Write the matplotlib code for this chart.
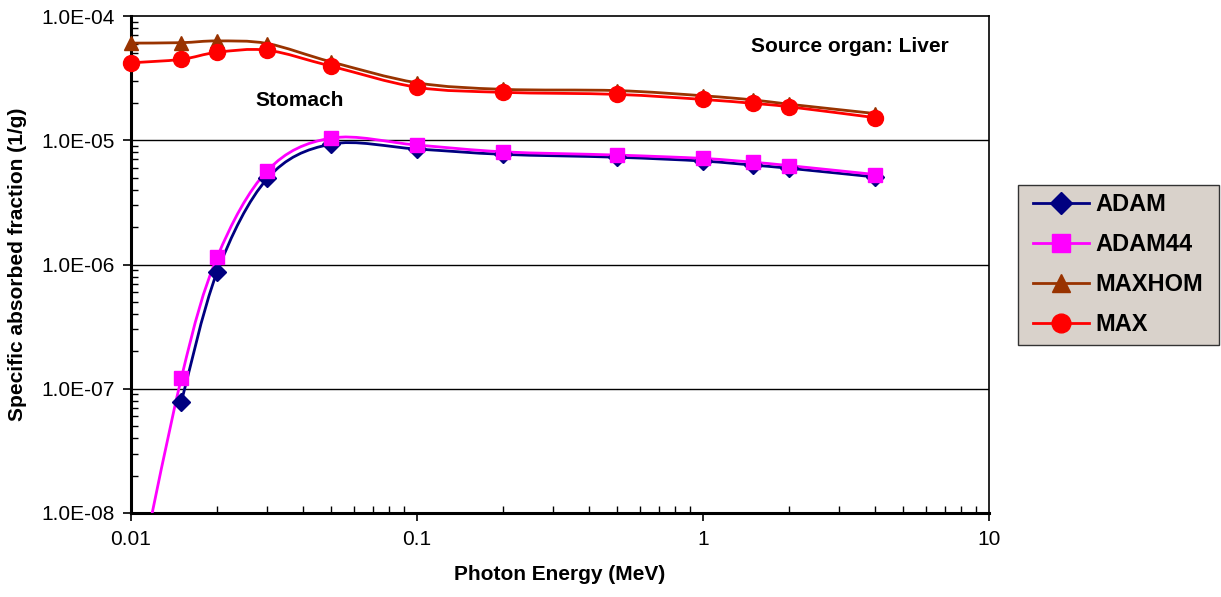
import numpy as np
import matplotlib
matplotlib.use("Agg")
import matplotlib.pyplot as plt
from matplotlib.path import Path
from matplotlib.patches import PathPatch, Rectangle
from matplotlib.lines import Line2D
from matplotlib.ticker import FixedLocator, FuncFormatter, LogLocator, NullFormatter

plt.rcParams["font.family"] = ["Liberation Sans", "DejaVu Sans"]

# --- datos ---
energia = [0.01, 0.015, 0.02, 0.03, 0.05, 0.1, 0.2, 0.5, 1, 1.5, 2, 4]

adam = [None, 7.85e-8, 8.7e-7, 4.93e-6, 9.3e-6, 8.5e-6, 7.7e-6, 7.3e-6, 6.8e-6, 6.3e-6, 5.95e-6, 5.06e-6]
adam44 = [1.5e-9, 1.22e-7, 1.14e-6, 5.7e-6, 1.04e-5, 9.15e-6, 8.07e-6, 7.6e-6, 7.14e-6, 6.65e-6, 6.25e-6, 5.3e-6]
maxhom = [6.05e-5, 6.1e-5, 6.3e-5, 6.0e-5, 4.28e-5, 2.9e-5, 2.57e-5, 2.51e-5, 2.28e-5, 2.11e-5, 1.95e-5, 1.64e-5]
max_ = [4.2e-5, 4.48e-5, 5.1e-5, 5.3e-5, 3.95e-5, 2.67e-5, 2.43e-5, 2.34e-5, 2.13e-5, 1.98e-5, 1.86e-5, 1.52e-5]

SERIES = [
    ("ADAM", adam, "#000080", "D", 9.5),
    ("ADAM44", adam44, "#FF00FF", "s", 10.5),
    ("MAXHOM", maxhom, "#993300", "^", 10.5),
    ("MAX", max_, "#FF0000", "o", 11.5),
]


def curva_suave(xs, ys):
    # curva tipo Excel (Catmull-Rom) en espacio log-log
    lx = np.log10(xs)
    ly = np.log10(ys)
    n = len(lx)
    verts = [(lx[0], ly[0])]
    codes = [Path.MOVETO]
    for i in range(n - 1):
        i0 = max(i - 1, 0)
        i3 = min(i + 2, n - 1)
        c1 = (lx[i] + (lx[i + 1] - lx[i0]) / 6, ly[i] + (ly[i + 1] - ly[i0]) / 6)
        c2 = (lx[i + 1] - (lx[i3] - lx[i]) / 6, ly[i + 1] - (ly[i3] - ly[i]) / 6)
        verts += [c1, c2, (lx[i + 1], ly[i + 1])]
        codes += [Path.CURVE4] * 3
    verts = 10 ** np.array(verts)
    return Path(verts, codes)


fig = plt.figure(figsize=(12.21, 5.97), dpi=100)
ax = fig.add_axes([131 / 1221, 1 - 513 / 597, 858 / 1221, 497 / 597])
ax.set_xscale("log")
ax.set_yscale("log")
ax.set_xlim(0.01, 10)
ax.set_ylim(1e-8, 1e-4)

for y in [1e-7, 1e-6, 1e-5]:
    ax.axhline(y, color="black", linewidth=1.0, zorder=1)

handles = []
for nombre, valores, color, marca, ms in SERIES:
    xs = [e for e, v in zip(energia, valores) if v is not None]
    ys = [v for v in valores if v is not None]
    patch = PathPatch(curva_suave(xs, ys), fill=False, edgecolor=color,
                      linewidth=2.0, zorder=3)
    ax.add_patch(patch)
    ax.plot(xs, ys, linestyle="none", marker=marca, markersize=ms,
            color=color, markeredgecolor=color, zorder=4,
            clip_on=(nombre == "ADAM44"))
    handles.append(Line2D([], [], color=color, linewidth=2.0, marker=marca,
                          markersize=ms + 2, markeredgecolor=color, label=nombre))

ax.xaxis.set_major_locator(FixedLocator([0.01, 0.1, 1, 10]))
ax.xaxis.set_major_formatter(FuncFormatter(lambda v, p: f"{v:g}"))
ax.xaxis.set_minor_locator(LogLocator(base=10, subs=np.arange(2, 10)))
ax.xaxis.set_minor_formatter(NullFormatter())
ax.yaxis.set_major_locator(FixedLocator([1e-8, 1e-7, 1e-6, 1e-5, 1e-4]))
ax.yaxis.set_major_formatter(FuncFormatter(lambda v, p: f"{v:.1E}"))
ax.yaxis.set_minor_locator(LogLocator(base=10, subs=np.arange(2, 10)))
ax.yaxis.set_minor_formatter(NullFormatter())

ax.tick_params(which="major", direction="out", length=6, width=1.2, labelsize=15, pad=6)
ax.tick_params(which="minor", direction="in", length=5, width=1.0)

for lado in ["left", "bottom"]:
    ax.spines[lado].set_linewidth(2.2)
for lado in ["top", "right"]:
    ax.spines[lado].set_linewidth(1.2)

ax.set_xlabel("Photon Energy (MeV)", fontsize=15, fontweight="bold", labelpad=12)
ax.set_ylabel("Specific absorbed fraction (1/g)", fontsize=15, fontweight="bold", labelpad=10)

fig.text(300 / 1221, 1 - 100 / 597, "Stomach", fontsize=15, fontweight="bold",
         ha="center", va="center")
fig.text(850 / 1221, 1 - 47 / 597, "Source organ: Liver", fontsize=15,
         fontweight="bold", ha="center", va="center")

# fondo de la leyenda (caja estilo Excel)
fig.patches.append(Rectangle((1018 / 1221, 1 - 345 / 597), 201 / 1221, 160 / 597,
                             transform=fig.transFigure, facecolor="#d9d2cb",
                             edgecolor="#333333", linewidth=1.0, zorder=0))

leg = fig.legend(handles=handles, loc="upper left",
                 bbox_to_anchor=(1025 / 1221, 1 - 185 / 597), borderaxespad=0,
                 prop={"size": 17, "weight": "bold"}, frameon=False,
                 handlelength=2.35, labelspacing=0.72, handletextpad=0.3,
                 borderpad=0.35)

fig.savefig("out.png", dpi=100)
